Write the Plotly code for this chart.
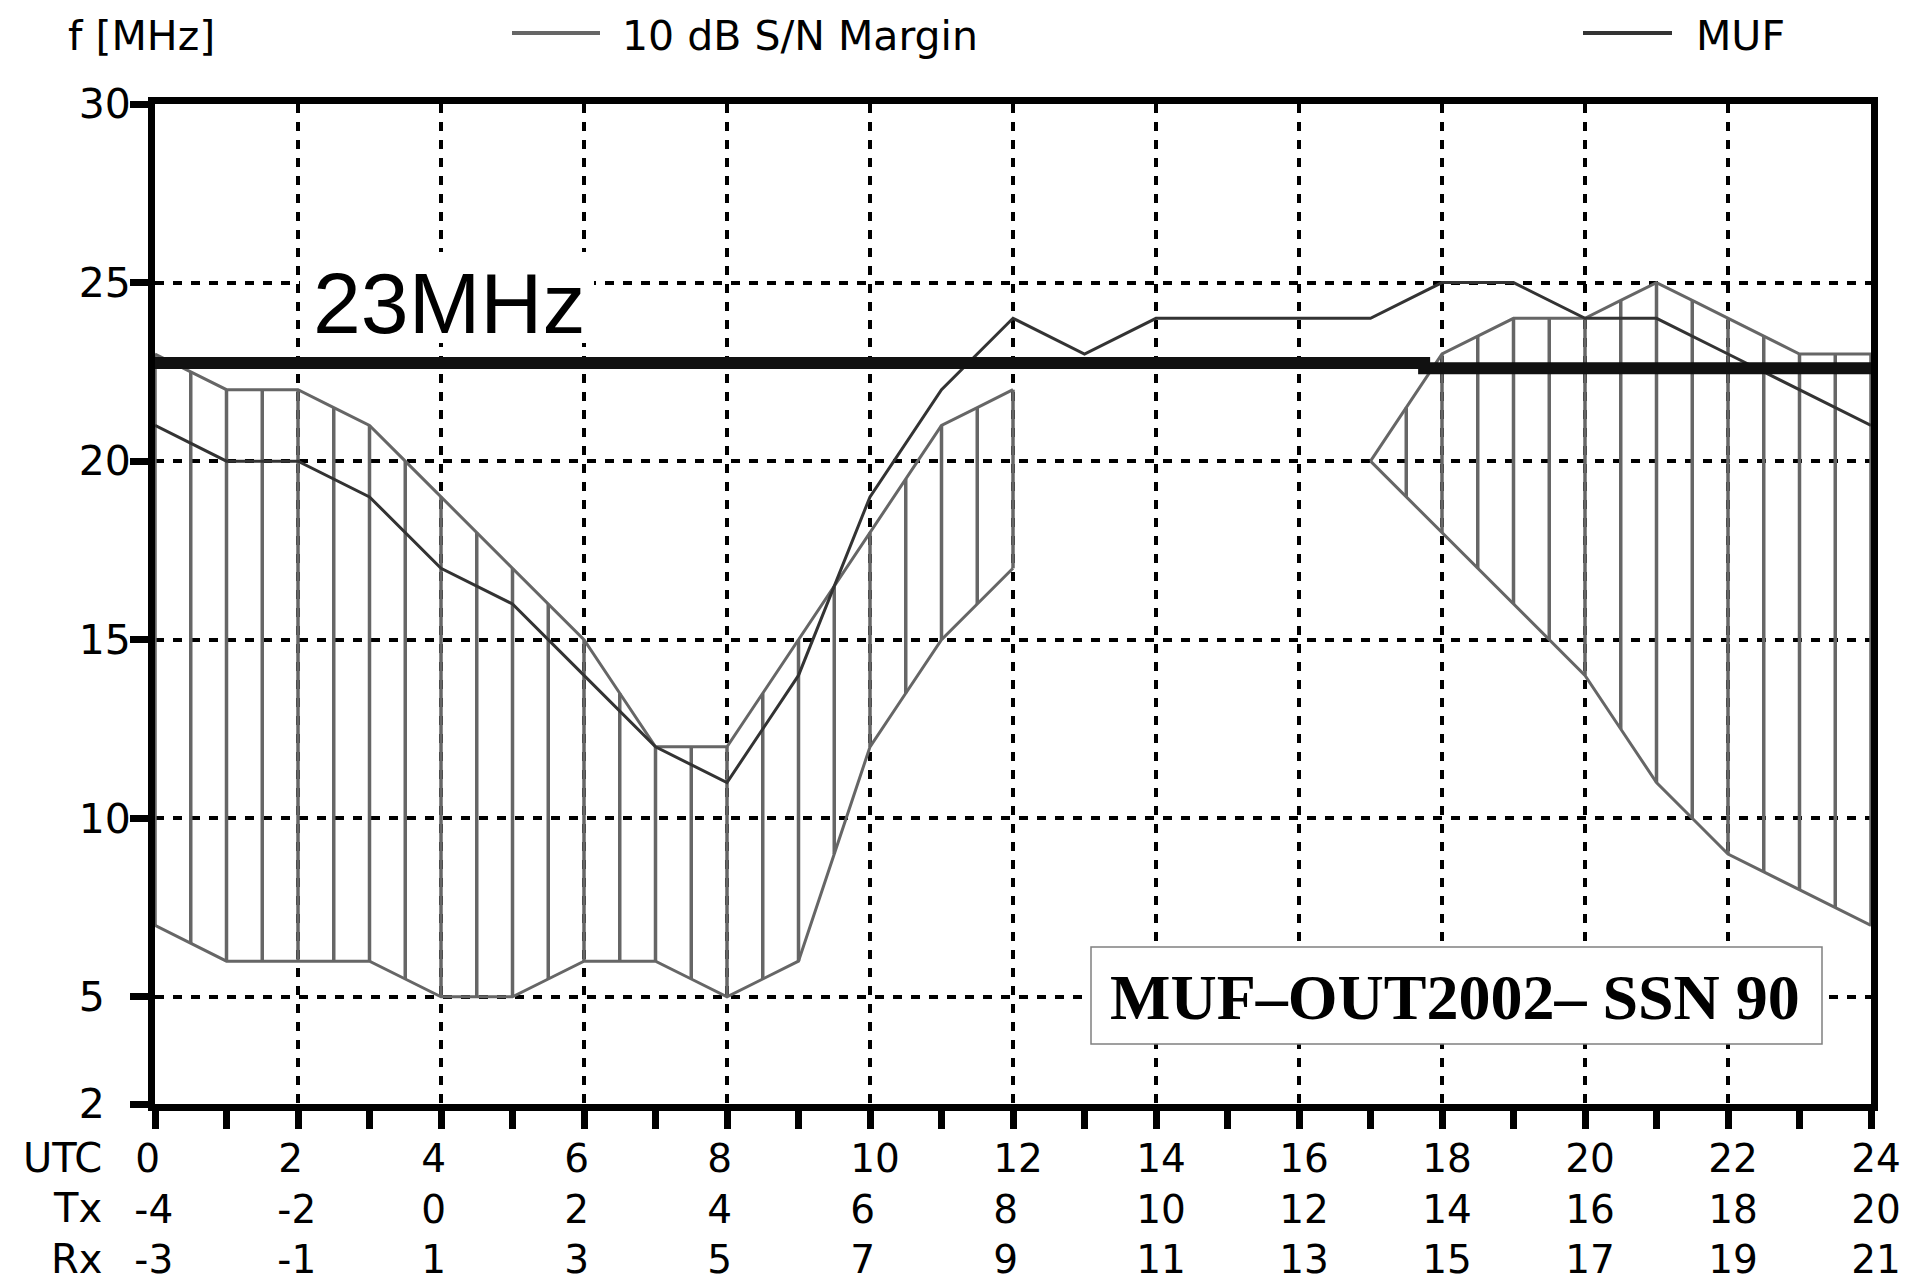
import plotly.graph_objects as go

# ---------------- data ----------------
utc_hours = [0, 2, 4, 6, 8, 10, 12, 14, 16, 18, 20, 22, 24]
tx_labels = ["-4", "-2", "0", "2", "4", "6", "8", "10", "12", "14", "16", "18", "20"]
rx_labels = ["-3", "-1", "1", "3", "5", "7", "9", "11", "13", "15", "17", "19", "21"]
freq_ticks = [2, 5, 10, 15, 20, 25, 30]

muf_hours = [0, 1, 2, 3, 4, 5, 6, 7, 8, 9, 10, 11, 12, 13, 14, 15, 16, 17, 18, 19, 20, 21, 22, 23, 24]
muf_values = [21, 20, 20, 19, 17, 16, 14, 12, 11, 14, 19, 22, 24, 23, 24, 24, 24, 24, 25, 25, 24, 24, 23, 22, 21]

# 10 dB S/N margin band (two separate windows), half-hour steps
band_a_hours = [0, 0.5, 1, 1.5, 2, 2.5, 3, 3.5, 4, 4.5, 5, 5.5, 6, 6.5, 7, 7.5, 8, 8.5, 9, 9.5, 10, 10.5, 11, 11.5, 12]
band_a_upper = [23, 22.5, 22, 22, 22, 21.5, 21, 20, 19, 18, 17, 16, 15, 13.5, 12, 12, 12, 13.5, 15, 16.5, 18, 19.5, 21, 21.5, 22]
band_a_lower = [7, 6.5, 6, 6, 6, 6, 6, 5.5, 5, 5, 5, 5.5, 6, 6, 6, 5.5, 5, 5.5, 6, 9, 12, 13.5, 15, 16, 17]

band_b_hours = [17, 17.5, 18, 18.5, 19, 19.5, 20, 20.5, 21, 21.5, 22, 22.5, 23, 23.5, 24]
band_b_upper = [20, 21.5, 23, 23.5, 24, 24, 24, 24.5, 25, 24.5, 24, 23.5, 23, 23, 23]
band_b_lower = [20, 19, 18, 17, 16, 15, 14, 12.5, 11, 10, 9, 8.5, 8, 7.5, 7]

# 23 MHz reference line (drawn slightly stepped in the original)
threshold_hours = [0, 17.75, 17.75, 24]
threshold_values = [22.75, 22.75, 22.6, 22.6]
threshold_label = "23MHz"
box_label = "MUF\u2013OUT2002\u2013 SSN 90"

# ---------------- layout geometry ----------------
# The page body has an 8 px margin: the figure starts 8 px right/down of the
# window corner, so screen positions are converted with that offset.
OFF = 8
W, H = 1910 - OFF, 1285 - OFF
SL, ST, SR, SB = 155, 104, 1871, 1104          # plot area in screen pixels
L, T = SL - OFF, ST - OFF
R, B = W - (SR - OFF), H - (SB - OFF)
PW, PH = SR - SL, SB - ST


def px(x):
    """screen x pixel -> paper coordinate"""
    return (x - SL) / PW


def py(y):
    """screen y pixel -> paper coordinate"""
    return (SB - y) / PH


GRAY = "#666666"
DARK = "#333333"
FONT = "DejaVu Sans"
FS = 41        # legend / y tick text
FSX = 39       # three-row x tick text


def hatch(xs, lo, hi):
    hx, hy = [], []
    for x, a, b in zip(xs, lo, hi):
        hx += [x, x, None]
        hy += [a, b, None]
    return hx, hy


def pad(s):
    """pad a tick text to two digit cells so the three rows line up on the left"""
    if len(s) == 1:
        return s + "\u2007"
    if s.startswith("-"):
        return s + "\u2008"
    return s


fig = go.Figure()

for xs, lo, hi in [(band_a_hours, band_a_lower, band_a_upper),
                   (band_b_hours, band_b_lower, band_b_upper)]:
    hx, hy = hatch(xs, lo, hi)
    fig.add_trace(go.Scatter(x=hx, y=hy, mode="lines",
                             line=dict(color=GRAY, width=3.5),
                             showlegend=False, hoverinfo="skip"))
    fig.add_trace(go.Scatter(x=xs, y=hi, mode="lines",
                             line=dict(color=GRAY, width=3),
                             showlegend=False))
    fig.add_trace(go.Scatter(x=xs, y=lo, mode="lines",
                             line=dict(color=GRAY, width=3),
                             showlegend=False))

fig.add_trace(go.Scatter(x=muf_hours, y=muf_values, mode="lines",
                         line=dict(color=DARK, width=3), showlegend=False))

fig.add_trace(go.Scatter(x=threshold_hours, y=threshold_values, mode="lines",
                         line=dict(color="#111111", width=12), showlegend=False))

ticktext = [f"{pad(str(u))}<br>{pad(t)}<br>{pad(r)}"
            for u, t, r in zip(utc_hours, tx_labels, rx_labels)]
yticktext = [str(v) + "\u2007" * (2 - len(str(v))) for v in freq_ticks]

fig.update_xaxes(
    range=[0, 24], tickmode="array", tickvals=utc_hours, ticktext=ticktext,
    ticks="outside", ticklen=18, tickwidth=7, tickcolor="black",
    showline=True, linewidth=7, linecolor="black", mirror=True,
    showgrid=True, gridcolor="black", gridwidth=3.5, griddash="9px,9px",
    zeroline=False, tickfont=dict(family=FONT, size=FSX, color="black"),
    ticklabelstandoff=-4, ticklabelshift=5,
    minor=dict(dtick=1, tick0=0, ticks="outside", ticklen=18, tickwidth=7,
               tickcolor="black", showgrid=False),
)
fig.update_yaxes(
    range=[2, 30], tickmode="array", tickvals=freq_ticks, ticktext=yticktext,
    ticks="outside", ticklen=18, tickwidth=7, tickcolor="black",
    showline=True, linewidth=7, linecolor="black", mirror=True,
    showgrid=True, gridcolor="black", gridwidth=3.5, griddash="9px,9px",
    zeroline=False, tickfont=dict(family=FONT, size=FS, color="black"),
    ticklabelstandoff=-9,
)

shapes = [
    # white background behind "23MHz"
    dict(type="rect", xref="paper", yref="paper", x0=px(300), x1=px(594),
         y0=py(343), y1=py(252), fillcolor="white", line=dict(width=0), layer="above"),
    # MUF-OUT box
    dict(type="rect", xref="paper", yref="paper", x0=px(1091), x1=px(1822),
         y0=py(1044), y1=py(947), fillcolor="white",
         line=dict(color="#808080", width=1.5), layer="above"),
    # legend line samples
    dict(type="line", xref="paper", yref="paper", x0=px(512), x1=px(600),
         y0=py(33), y1=py(33), line=dict(color=GRAY, width=4)),
    dict(type="line", xref="paper", yref="paper", x0=px(1583), x1=px(1672),
         y0=py(33), y1=py(33), line=dict(color=DARK, width=4)),
]

annotations = [
    dict(text=threshold_label, xref="paper", yref="paper", x=px(449), y=py(303),
         xanchor="center", yanchor="middle", showarrow=False,
         font=dict(family="Liberation Sans", size=86, color="black")),
    dict(text=f"<b>{box_label}</b>", xref="paper", yref="paper", x=px(1455), y=py(997),
         xanchor="center", yanchor="middle", showarrow=False,
         font=dict(family="Liberation Serif", size=64, color="black")),
    dict(text="f [MHz]", xref="paper", yref="paper", x=px(66), y=py(36),
         xanchor="left", yanchor="middle", showarrow=False,
         font=dict(family=FONT, size=FS, color="black")),
    dict(text="10 dB S/N Margin", xref="paper", yref="paper", x=px(620), y=py(36),
         xanchor="left", yanchor="middle", showarrow=False,
         font=dict(family=FONT, size=FS, color="black")),
    dict(text="MUF", xref="paper", yref="paper", x=px(1694), y=py(36),
         xanchor="left", yanchor="middle", showarrow=False,
         font=dict(family=FONT, size=FS, color="black")),
]
for label, ycen in [("UTC", 1158), ("Tx", 1208), ("Rx", 1259)]:
    annotations.append(dict(text=label, xref="paper", yref="paper", x=px(104), y=py(ycen),
                            xanchor="right", yanchor="middle", showarrow=False,
                            font=dict(family=FONT, size=FSX + 1, color="black")))

fig.update_layout(
    width=W, height=H,
    margin=dict(l=L, r=R, t=T, b=B, pad=0, autoexpand=False),
    paper_bgcolor="white", plot_bgcolor="white",
    showlegend=False, shapes=shapes, annotations=annotations,
)

fig.write_html("out.html")
